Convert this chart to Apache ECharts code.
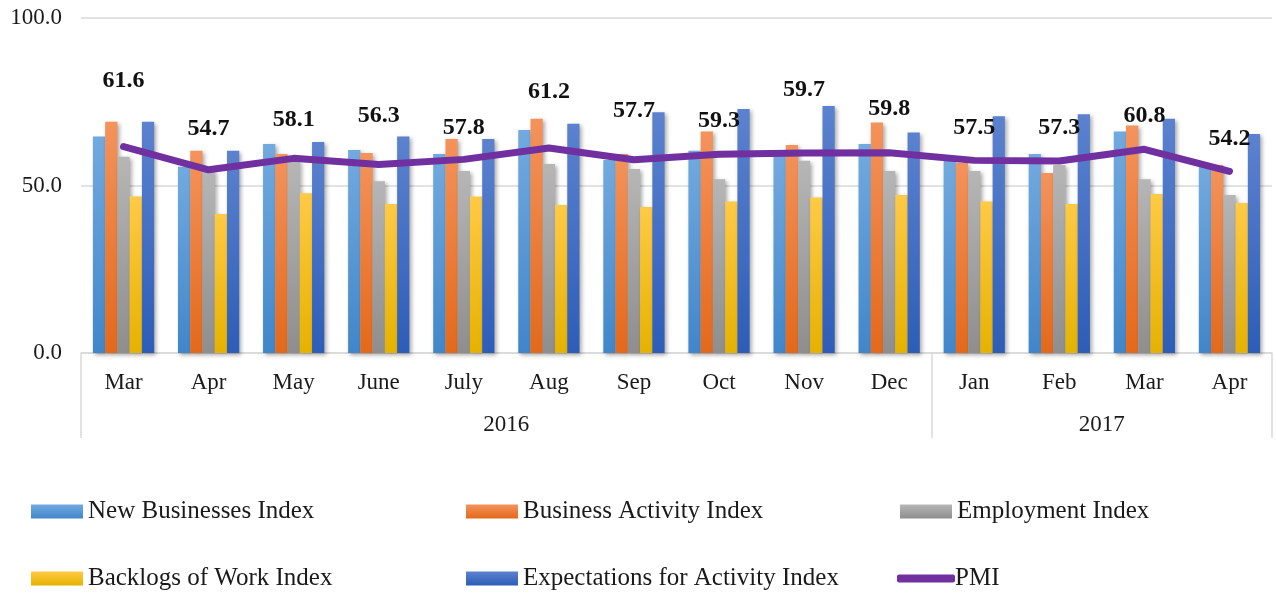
<!DOCTYPE html>
<html>
<head>
<meta charset="UTF-8">
<title>PMI indices</title>
<script src="https://cdn.jsdelivr.net/npm/echarts@6/dist/echarts.min.js"></script>
<style>
  html, body { margin: 0; padding: 0; background: #fff; }
  #main { width: 1276px; height: 595px; }
</style>
</head>
<body>
<div id="main"></div>
<script>
// months along the bottom, and the year each group belongs to
var months = ['Mar', 'Apr', 'May', 'June', 'July', 'Aug', 'Sep', 'Oct', 'Nov', 'Dec', 'Jan', 'Feb', 'Mar', 'Apr'];
var years = ['2016', '2017'];
var yearStarts = [0, 10, 14];      // category index where each year begins / ends
var yTicks = [0, 50, 100];

var newBusinesses = [64.6, 55.6, 62.4, 60.6, 59.4, 66.6, 57.6, 60.4, 59.1, 62.4, 57.6, 59.4, 66.1, 55.6];
var businessActivity = [69.0, 60.4, 59.4, 59.7, 63.9, 69.9, 59.4, 66.1, 62.1, 68.8, 56.7, 53.7, 67.9, 56.1];
var employment = [58.6, 54.6, 57.6, 51.3, 54.3, 56.4, 54.9, 51.9, 57.4, 54.3, 54.3, 56.1, 51.9, 47.2];
var backlogs = [46.7, 41.5, 47.7, 44.5, 46.7, 44.2, 43.6, 45.2, 46.4, 47.2, 45.2, 44.5, 47.5, 44.8];
var expectations = [69.0, 60.4, 63.0, 64.6, 63.9, 68.4, 71.9, 72.8, 73.7, 65.8, 70.7, 71.3, 69.9, 65.4];
var pmi = [61.6, 54.7, 58.1, 56.3, 57.8, 61.2, 57.7, 59.3, 59.7, 59.8, 57.5, 57.3, 60.8, 54.2];

// how far each PMI label sits above its point (labels were hand placed in the original)
var pmiLabelLift = [54, 29, 27, 37, 20, 44, 37, 21, 51, 32, 21, 21, 21, 21];

var FONT = '"Liberation Serif", "DejaVu Serif", serif';

function grad(top, bottom) {
  return new echarts.graphic.LinearGradient(0, 0, 0, 1, [
    { offset: 0, color: top },
    { offset: 1, color: bottom }
  ]);
}

function barSeries(name, data, top, bottom) {
  return {
    name: name,
    type: 'bar',
    data: data,
    barGap: '0%',
    barCategoryGap: '28%',
    itemStyle: {
      color: grad(top, bottom),
      shadowColor: 'rgba(0,0,0,0.35)',
      shadowBlur: 4,
      shadowOffsetX: 2,
      shadowOffsetY: 2
    }
  };
}

function legendAt(name, left, top, isLine) {
  return {
    data: [name],
    left: left,
    top: top,
    padding: 0,
    itemWidth: isLine ? 58 : 52,
    itemHeight: isLine ? 8 : 14,
    itemGap: 0,
    icon: isLine ? 'roundRect' : 'rect',
    textStyle: { fontFamily: FONT, fontSize: 25, color: '#1a1a1a', padding: [0, 0, 0, isLine ? -5 : 0] }
  };
}

var pmiData = pmi.map(function (v, i) {
  return { value: v, label: { distance: pmiLabelLift[i] } };
});

var myChart = echarts.init(document.getElementById('main'));

var option = {
  animation: false,
  backgroundColor: '#fff',
  grid: { left: 81, right: 4, top: 18, bottom: 242 },
  legend: [
    legendAt('New Businesses Index', 31, 499),
    legendAt('Business Activity Index', 466, 499),
    legendAt('Employment Index', 900, 499),
    legendAt('Backlogs of Work Index', 31, 566),
    legendAt('Expectations for Activity Index', 466, 566),
    legendAt('PMI', 897, 566, true)
  ],
  xAxis: [{
    type: 'category',
    data: months,
    axisLine: { lineStyle: { color: '#d9d9d9', width: 1.5 } },
    axisTick: { show: false },
    axisLabel: { fontFamily: FONT, fontSize: 23, color: '#1a1a1a', margin: 18 }
  }, {
    // second row of the axis: years and the long separators
    type: 'value',
    min: 0,
    max: months.length,
    position: 'bottom',
    axisLine: { show: false },
    splitLine: { show: false },
    axisTick: {
      show: true,
      length: 85,
      customValues: yearStarts,
      lineStyle: { color: '#d9d9d9', width: 1.5 }
    },
    axisLabel: {
      fontFamily: FONT, fontSize: 23, color: '#1a1a1a', margin: 60,
      customValues: yearStarts.slice(0, -1).map(function (s, i) { return (s + yearStarts[i + 1]) / 2; }),
      formatter: function (v) {
        for (var i = 0; i < years.length; i++) {
          if (v > yearStarts[i] && v < yearStarts[i + 1]) return years[i];
        }
        return '';
      }
    }
  }],
  yAxis: {
    type: 'value',
    min: yTicks[0],
    max: yTicks[yTicks.length - 1],
    interval: yTicks[1] - yTicks[0],
    axisLine: { show: false },
    axisTick: { show: false },
    splitLine: { lineStyle: { color: '#d9d9d9', width: 1.5 } },
    axisLabel: {
      fontFamily: FONT, fontSize: 23, color: '#1a1a1a', margin: 19,
      formatter: function (v) { return v.toFixed(1); }
    }
  },
  series: [
    barSeries('New Businesses Index', newBusinesses, '#72aadf', '#4186ca'),
    barSeries('Business Activity Index', businessActivity, '#f4935c', '#e3691b'),
    barSeries('Employment Index', employment, '#b6b6b6', '#8e8e8e'),
    barSeries('Backlogs of Work Index', backlogs, '#ffca45', '#e6b200'),
    barSeries('Expectations for Activity Index', expectations, '#5c82cf', '#2d5db7'),
    {
      name: 'PMI',
      type: 'line',
      data: pmiData,
      showSymbol: true,
      symbol: 'circle',
      symbolSize: 0.1,
      z: 5,
      lineStyle: { color: '#7030a0', width: 7, cap: 'round', join: 'round' },
      itemStyle: { color: '#7030a0' },
      label: {
        show: true,
        position: 'top',
        fontFamily: FONT,
        fontSize: 24,
        fontWeight: 'bold',
        color: '#111',
        formatter: function (p) { return p.value.toFixed(1); }
      }
    }
  ]
};

myChart.setOption(option);
</script>
</body>
</html>
